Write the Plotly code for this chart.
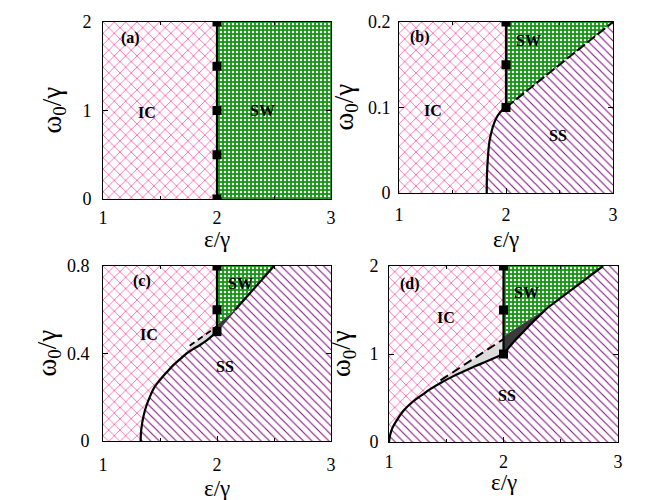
import plotly.graph_objects as go

FONT = "Liberation Serif"
PINK = "#ff5fae"
GREEN = "#139513"
PURPLE = "#84107f"
LGREY = "#dcdcdc"
DGREY = "#3a3a3a"

# common
eps_range = [1.0, 3.0]
eps_ticks = [1, 2, 3]
eps_c = 2.0

# ---------- panel (a) ----------
a_wmax = 2.0
a_wticks = [0, 1, 2]
a_marker_w = [0.0, 0.5, 1.0, 1.5, 2.0]

# ---------- panel (b) ----------
b_wmax = 0.2
b_wticks = [0, 0.1, 0.2]
b_ic_ss_eps = [1.82, 1.822, 1.83, 1.845, 1.865, 1.89, 1.92, 1.95, 1.975, 2.0]
b_ic_ss_w = [0.0, 0.02, 0.04, 0.06, 0.072, 0.082, 0.09, 0.095, 0.098, 0.1]
b_sw_ss_eps = [2.0, 3.0]
b_sw_ss_w = [0.1, 0.2]
b_marker_w = [0.1, 0.15, 0.2]

# ---------- panel (c) ----------
c_wmax = 0.8
c_wticks = [0, 0.4, 0.8]
c_ic_ss_eps = [1.33, 1.335, 1.354, 1.38, 1.412, 1.45, 1.5, 1.56, 1.617, 1.68, 1.734, 1.79, 1.851, 1.91, 1.968, 2.0]
c_ic_ss_w = [0.0, 0.05, 0.111, 0.16, 0.203, 0.245, 0.279, 0.315, 0.347, 0.376, 0.401, 0.42, 0.439, 0.46, 0.485, 0.5]
c_dash_eps = [1.76, 2.0]
c_dash_w = [0.435, 0.525]
c_dark_eps = [2.0, 2.16, 2.0]
c_dark_w = [0.5, 0.6, 0.53]
c_sw_ss_eps = [2.16, 2.5]
c_sw_ss_w = [0.6, 0.8]
c_marker_w = [0.5, 0.6, 0.8]

# ---------- panel (d) ----------
d_wmax = 2.0
d_wticks = [0, 1, 2]
d_ic_ss_eps = [1.0, 1.01, 1.03, 1.07, 1.13, 1.21, 1.29, 1.36, 1.45, 1.55, 1.65, 1.75, 1.85, 1.93, 2.0]
d_ic_ss_w = [0.0, 0.08, 0.16, 0.25, 0.36, 0.46, 0.535, 0.6, 0.67, 0.74, 0.80, 0.86, 0.915, 0.96, 1.0]
d_dash_eps = [1.45, 2.0]
d_dash_w = [0.70, 1.17]
d_low_eps = [2.0, 2.09, 2.23, 2.38, 2.87]
d_low_w = [1.0, 1.14, 1.33, 1.52, 2.0]
d_sw_edge_eps = [2.0, 2.2, 2.38]
d_sw_edge_w = [1.2, 1.37, 1.52]
d_marker_w = [1.0, 1.5, 2.0]

# ---------- panel labels ----------
a_labels = [("(a)", 1.24, 1.82), ("IC", 1.39, 0.98), ("SW", 2.40, 1.0)]
b_labels = [("(b)", 1.20, 0.183), ("IC", 1.32, 0.097), ("SW", 2.21, 0.178), ("SS", 2.49, 0.067)]
c_labels = [("(c)", 1.34, 0.73), ("IC", 1.40, 0.485), ("SW", 2.21, 0.72), ("SS", 2.07, 0.34)]
d_labels = [("(d)", 1.18, 1.80), ("IC", 1.50, 1.42), ("SW", 2.20, 1.70), ("SS", 2.03, 0.53)]

W, H = 654, 500
# panel pixel boxes: left, right, top, bottom
boxes = {
    1: (103, 331, 22, 199),
    2: (399, 613, 22, 193),
    3: (103, 331, 266, 441),
    4: (389, 618, 266, 442),
}

pat_ic = dict(shape="x", fgcolor=PINK, bgcolor="white", size=8, solidity=0.2, fillmode="replace")
pat_sw = dict(shape=".", fgcolor="white", bgcolor=GREEN, size=4, solidity=0.3, fillmode="replace")
pat_ss = dict(shape="\\", fgcolor=PURPLE, bgcolor="white", size=6, solidity=0.18, fillmode="replace")

fig = go.Figure()


def axn(k, c):
    return c if k == 1 else f"{c}{k}"


def region(xs, ys, k, pattern=None, color=None):
    kw = dict(x=xs, y=ys, mode="lines", fill="toself", line=dict(width=0),
              xaxis=axn(k, "x"), yaxis=axn(k, "y"),
              hoverinfo="skip", showlegend=False)
    if pattern is not None:
        kw["fillpattern"] = pattern
        kw["fillcolor"] = pattern["bgcolor"]
    else:
        kw["fillcolor"] = color
    fig.add_trace(go.Scatter(**kw))


def line(xs, ys, k, dash="solid", width=2.2, color="black", shape="linear"):
    fig.add_trace(go.Scatter(x=xs, y=ys, mode="lines",
                             line=dict(color=color, width=width, dash=dash, shape=shape),
                             xaxis=axn(k, "x"), yaxis=axn(k, "y"),
                             hoverinfo="skip", showlegend=False))


def markers(ws, k):
    fig.add_trace(go.Scatter(x=[eps_c] * len(ws), y=ws, mode="lines+markers",
                             line=dict(color="black", width=2.2),
                             marker=dict(symbol="square", size=9, color="black"),
                             xaxis=axn(k, "x"), yaxis=axn(k, "y"),
                             hoverinfo="skip", showlegend=False))


def ic_full(k, wmax):
    region([eps_range[0], eps_range[1], eps_range[1], eps_range[0]], [0, 0, wmax, wmax], k, pat_ic)


# panel (a)
ic_full(1, a_wmax)
region([eps_c, eps_range[1], eps_range[1], eps_c], [0, 0, a_wmax, a_wmax], 1, pat_sw)
markers(a_marker_w, 1)

# panel (b)
ic_full(2, b_wmax)
region(b_ic_ss_eps + b_sw_ss_eps[1:] + [eps_range[1]], b_ic_ss_w + b_sw_ss_w[1:] + [0], 2, pat_ss)
region([eps_c] + b_sw_ss_eps[::-1], [b_wmax] + b_sw_ss_w[::-1], 2, pat_sw)
line(b_ic_ss_eps, b_ic_ss_w, 2, shape="spline")
line(b_sw_ss_eps, b_sw_ss_w, 2, dash="10px,3px", width=2)
markers(b_marker_w, 2)

# panel (c)
ic_full(3, c_wmax)
region(c_ic_ss_eps + c_sw_ss_eps + [eps_range[1], eps_range[1]],
       c_ic_ss_w + c_sw_ss_w + [c_wmax, 0], 3, pat_ss)
region([eps_c, c_sw_ss_eps[1], c_sw_ss_eps[0], c_dark_eps[2]],
       [c_wmax, c_sw_ss_w[1], c_sw_ss_w[0], c_dark_w[2]], 3, pat_sw)
sl = [i for i, e in enumerate(c_ic_ss_eps) if e >= c_dash_eps[0]]
region([c_dash_eps[0]] + [c_ic_ss_eps[i] for i in sl] + [c_dash_eps[1]],
       [c_dash_w[0]] + [c_ic_ss_w[i] for i in sl] + [c_dash_w[1]], 3, color=LGREY)
region(c_dark_eps, c_dark_w, 3, color=DGREY)
line(c_ic_ss_eps, c_ic_ss_w, 3, shape="spline")
line(c_dash_eps, c_dash_w, 3, dash="6px,4px", width=1.8)
line(c_dark_eps[:2], c_dark_w[:2], 3, color=DGREY, width=1.5)
line(c_sw_ss_eps, c_sw_ss_w, 3, width=2.2)
markers(c_marker_w, 3)

# panel (d)
ic_full(4, d_wmax)
region(d_ic_ss_eps + d_low_eps[1:] + [eps_range[1], eps_range[1]],
       d_ic_ss_w + d_low_w[1:] + [d_wmax, 0], 4, pat_ss)
region([eps_c, d_low_eps[-1], d_low_eps[-2]] + d_sw_edge_eps[::-1][1:],
       [d_wmax, d_low_w[-1], d_low_w[-2]] + d_sw_edge_w[::-1][1:], 4, pat_sw)
sl = [i for i, e in enumerate(d_ic_ss_eps) if e >= d_dash_eps[0]]
region([d_dash_eps[0]] + [d_ic_ss_eps[i] for i in sl] + [d_dash_eps[1]],
       [d_dash_w[0]] + [d_ic_ss_w[i] for i in sl] + [d_dash_w[1]], 4, color=LGREY)
region(d_low_eps[:4] + d_sw_edge_eps[::-1][1:], d_low_w[:4] + d_sw_edge_w[::-1][1:], 4, color=DGREY)
line(d_ic_ss_eps, d_ic_ss_w, 4, shape="spline")
line(d_dash_eps, d_dash_w, 4, dash="9px,5px", width=2)
line(d_low_eps, d_low_w, 4, width=2.2)
markers(d_marker_w, 4)

# axes
wmaxes = {1: a_wmax, 2: b_wmax, 3: c_wmax, 4: d_wmax}
wticks = {1: a_wticks, 2: b_wticks, 3: c_wticks, 4: d_wticks}
xlab_off = {1: 2, 2: 5, 3: 7, 4: 3}
ylab_off = {1: 7, 2: 4, 3: 9, 4: 6}
xtitle_px = {1: 40, 2: 46, 3: 47, 4: 40}
ytitle_px = {1: 50, 2: 54, 3: 55, 4: 46}
labels = {1: a_labels, 2: b_labels, 3: c_labels, 4: d_labels}

annotations = []
for k, (l, r, t, b) in boxes.items():
    sfx = "" if k == 1 else str(k)
    xd = [l / W, r / W]
    yd = [1 - b / H, 1 - t / H]
    common = dict(showline=True, linecolor="black", linewidth=1, mirror="ticks",
                  ticks="inside", ticklen=5, tickcolor="black", showgrid=False,
                  zeroline=False, tickfont=dict(family=FONT, size=18, color="black"),
                  automargin=False)
    fig.layout[f"xaxis{sfx}"] = dict(domain=xd, range=eps_range, tickvals=eps_ticks,
                                     anchor=f"y{sfx}", ticklabelstandoff=xlab_off[k],
                                     minor=dict(dtick=0.5, ticks="inside", ticklen=3, tickcolor="black"),
                                     **common)
    fig.layout[f"yaxis{sfx}"] = dict(domain=yd, range=[0, wmaxes[k]], tickvals=wticks[k],
                                     anchor=f"x{sfx}", ticklabelstandoff=ylab_off[k], **common)
    xref = "x" + sfx
    yref = "y" + sfx
    pw, ph = r - l, b - t
    annotations.append(dict(text="ε/γ", xref=f"{xref} domain", yref=f"{yref} domain",
                            x=0.5, y=-xtitle_px[k] / ph, xanchor="center", yanchor="middle",
                            showarrow=False, font=dict(family=FONT, size=23, color="black")))
    annotations.append(dict(text="ω<sub>0</sub>/γ", xref=f"{xref} domain", yref=f"{yref} domain",
                            x=-ytitle_px[k] / pw, y=0.5, xanchor="center", yanchor="middle",
                            textangle=-90, showarrow=False,
                            font=dict(family=FONT, size=27, color="black")))
    for txt, xx, yy in labels[k]:
        annotations.append(dict(text=f"<b>{txt}</b>", xref=xref, yref=yref, x=xx, y=yy,
                                showarrow=False, font=dict(family=FONT, size=16, color="black")))

fig.update_layout(width=W, height=H, margin=dict(l=0, r=0, t=0, b=0),
                  paper_bgcolor="white", plot_bgcolor="white",
                  annotations=annotations, showlegend=False)

fig.write_html("out.html", config={"displayModeBar": False},
               post_script="document.body.style.margin='0';document.body.style.padding='0';")
